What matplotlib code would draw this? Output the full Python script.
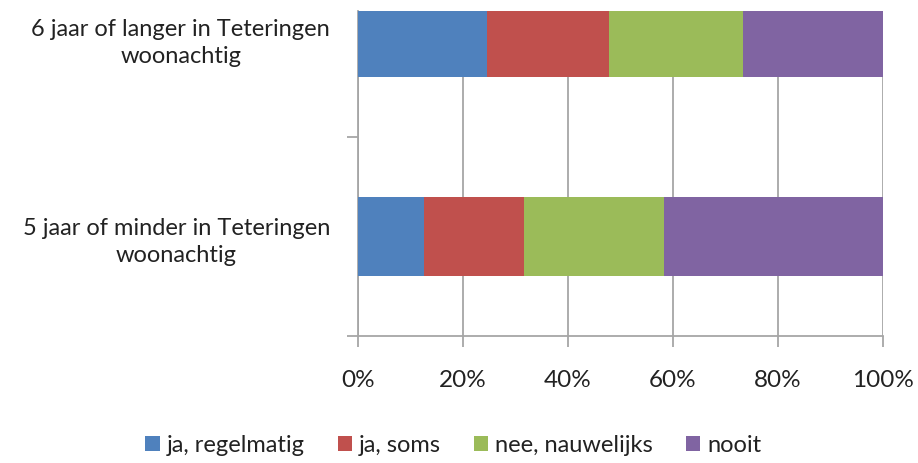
import matplotlib
matplotlib.use("Agg")
import matplotlib.pyplot as plt
import numpy as np

plt.rcParams['font.family'] = ['Lato', 'DejaVu Sans']

categories = ["5 jaar of minder in Teteringen\nwoonachtig",
              "6 jaar of langer in Teteringen\nwoonachtig"]
series_names = ["ja, regelmatig", "ja, soms", "nee, nauwelijks", "nooit"]
ja_regelmatig = [12.6, 24.5]
ja_soms = [19.0, 23.3]
nee_nauwelijks = [26.6, 25.6]
nooit = [41.8, 26.6]
x_ticks = [0, 20, 40, 60, 80, 100]
x_ticklabels = ["0%", "20%", "40%", "60%", "80%", "100%"]

colors = ["#4F81BD", "#C0504D", "#9BBB59", "#8064A2"]
series = [ja_regelmatig, ja_soms, nee_nauwelijks, nooit]

fig = plt.figure(figsize=(9.18, 4.64), dpi=100)
ax = fig.add_axes([358/918, (464-337)/464, (883-358)/918, (337-12)/464])

y = np.arange(len(categories))
left = np.zeros(len(categories))
handles = []
for name, vals, c in zip(series_names, series, colors):
    vals = np.array(vals, dtype=float)
    b = ax.barh(y, vals, left=left, height=0.4, color=c, label=name, zorder=3)
    handles.append(b)
    left += vals

ax.set_xlim(0, 100)
ax.set_ylim(-0.5, 1.133)
ax.set_xticks(x_ticks)
ax.set_xticklabels(x_ticklabels, fontsize=17.5, color="#222222")
ax.grid(axis='x', color="#a6a6a6", linewidth=1.3, zorder=0)
ax.set_axisbelow(True)

ax.set_yticks(y)
ax.set_yticklabels(categories, fontsize=17, color="#222222",
                   multialignment='center', linespacing=1.3)
ax.set_yticks([-0.5, 0.5], minor=True)
ax.tick_params(axis='y', which='major', length=0, pad=20)
ax.tick_params(axis='y', which='minor', length=8, width=1.3, color="#a6a6a6", direction='out')
ax.tick_params(axis='x', length=8, width=1.3, color="#a6a6a6", direction='out', pad=16)

for s in ['top', 'right']:
    ax.spines[s].set_visible(False)
for s in ['left', 'bottom']:
    ax.spines[s].set_color("#a6a6a6")
    ax.spines[s].set_linewidth(1.3)

fig.legend(handles=handles, labels=series_names, loc='center', ncol=4,
           bbox_to_anchor=(0.494, (464-446)/464), frameon=False, fontsize=17,
           handlelength=0.6, handleheight=0.6, handletextpad=0.3,
           columnspacing=1.4, labelcolor="#222222")

fig.savefig("out.png", dpi=100)
